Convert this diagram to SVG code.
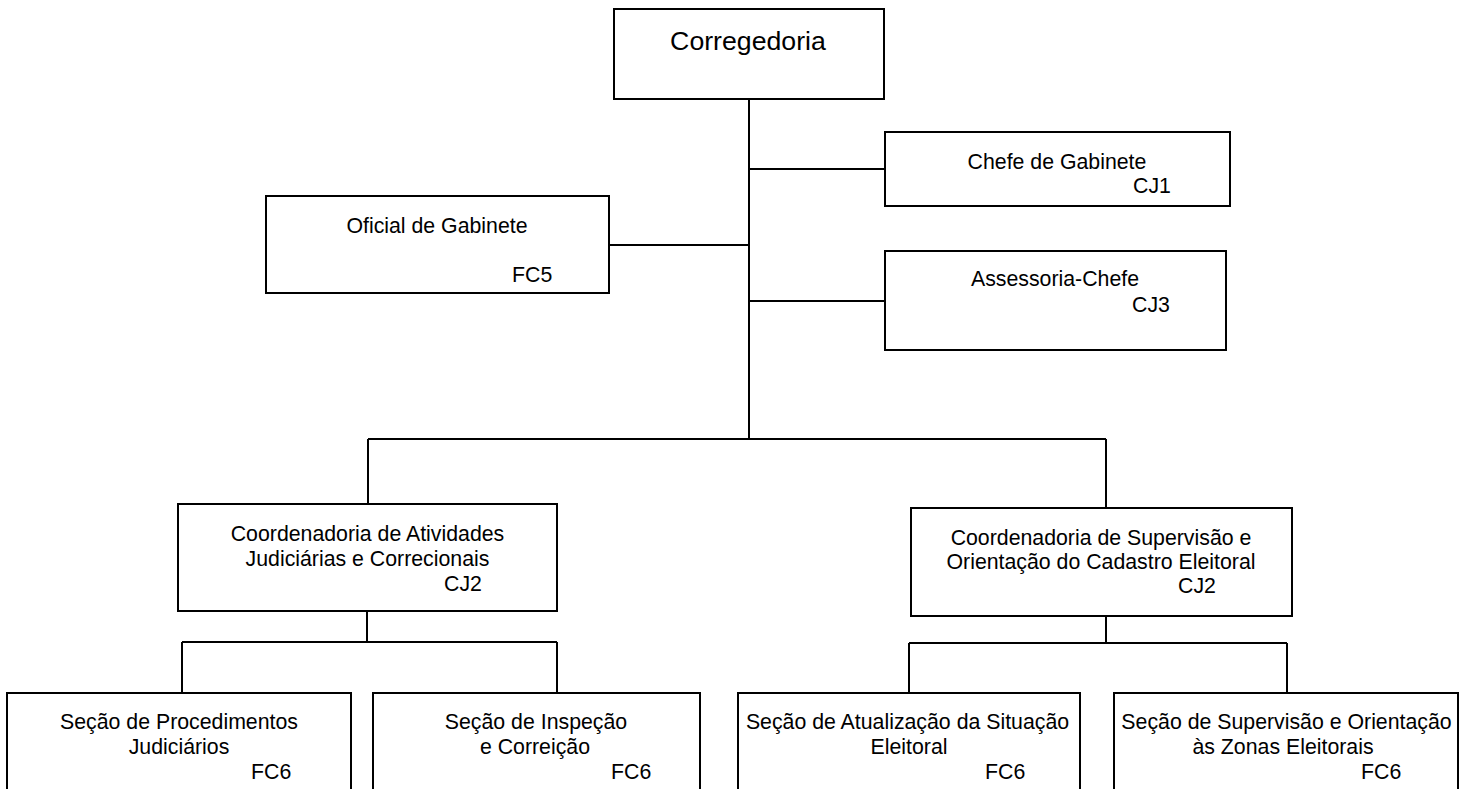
<svg xmlns="http://www.w3.org/2000/svg" width="1468" height="789" viewBox="0 0 1468 789">
<style>
.box{fill:#fff;stroke:#000;stroke-width:2}
.t{font-family:"Liberation Sans",Arial,sans-serif;font-size:21.3px;fill:#000}
.m{text-anchor:middle}
.big{font-size:26.7px}
.c{fill:none;stroke:#000;stroke-width:2}
</style>
<rect width="1468" height="789" fill="#fff"/>
<g id="connectors">
<path class="c" d="M749,99 V439 M368,439 H1106 M368,439 V504 M1106,439 V508"/>
<path class="c" d="M749,169 H885 M749,301 H885 M609,245 H749"/>
<path class="c" d="M367,611 V642 M182,642 H557 M182,642 V693 M557,642 V693"/>
<path class="c" d="M1106,616 V643 M909,643 H1287 M909,643 V693 M1287,643 V693"/>
</g>
<g id="corregedoria">
<rect class="box" x="614" y="9" width="270" height="90"/>
<text class="t m big" x="748" y="50">Corregedoria</text>
</g>
<g id="chefe-gabinete">
<rect class="box" x="885" y="132" width="345" height="74"/>
<text class="t m" x="1057" y="169">Chefe de Gabinete</text>
<text class="t" x="1133" y="193">CJ1</text>
</g>
<g id="oficial-gabinete">
<rect class="box" x="266" y="196" width="343" height="97"/>
<text class="t m" x="437" y="233">Oficial de Gabinete</text>
<text class="t" x="512" y="282">FC5</text>
</g>
<g id="assessoria-chefe">
<rect class="box" x="885" y="251" width="341" height="99"/>
<text class="t m" x="1055" y="286">Assessoria-Chefe</text>
<text class="t" x="1132" y="312">CJ3</text>
</g>
<g id="coord-atividades">
<rect class="box" x="178" y="504" width="379" height="107"/>
<text class="t m" x="367.5" y="541">Coordenadoria de Atividades</text>
<text class="t m" x="367.5" y="566">Judiciárias e Correcionais</text>
<text class="t" x="444" y="591">CJ2</text>
</g>
<g id="coord-supervisao">
<rect class="box" x="911" y="508" width="381" height="108"/>
<text class="t m" x="1101" y="545">Coordenadoria de Supervisão e</text>
<text class="t m" x="1101" y="569">Orientação do Cadastro Eleitoral</text>
<text class="t" x="1178" y="593">CJ2</text>
</g>
<g id="secao-procedimentos">
<rect class="box" x="7" y="693" width="344" height="110"/>
<text class="t m" x="179" y="729">Seção de Procedimentos</text>
<text class="t m" x="179" y="754">Judiciários</text>
<text class="t" x="251" y="779">FC6</text>
</g>
<g id="secao-inspecao">
<rect class="box" x="373" y="693" width="327" height="110"/>
<text class="t m" x="536" y="729">Seção de Inspeção</text>
<text class="t m" x="535" y="754">e Correição</text>
<text class="t" x="611" y="779">FC6</text>
</g>
<g id="secao-atualizacao">
<rect class="box" x="738" y="693" width="342" height="110"/>
<text class="t m" x="907.5" y="729">Seção de Atualização da Situação</text>
<text class="t m" x="909" y="754">Eleitoral</text>
<text class="t" x="985" y="779">FC6</text>
</g>
<g id="secao-supervisao">
<rect class="box" x="1114" y="693" width="344" height="110"/>
<text class="t m" x="1286.5" y="729">Seção de Supervisão e Orientação</text>
<text class="t m" x="1283" y="754">às Zonas Eleitorais</text>
<text class="t" x="1361" y="779">FC6</text>
</g>
</svg>
